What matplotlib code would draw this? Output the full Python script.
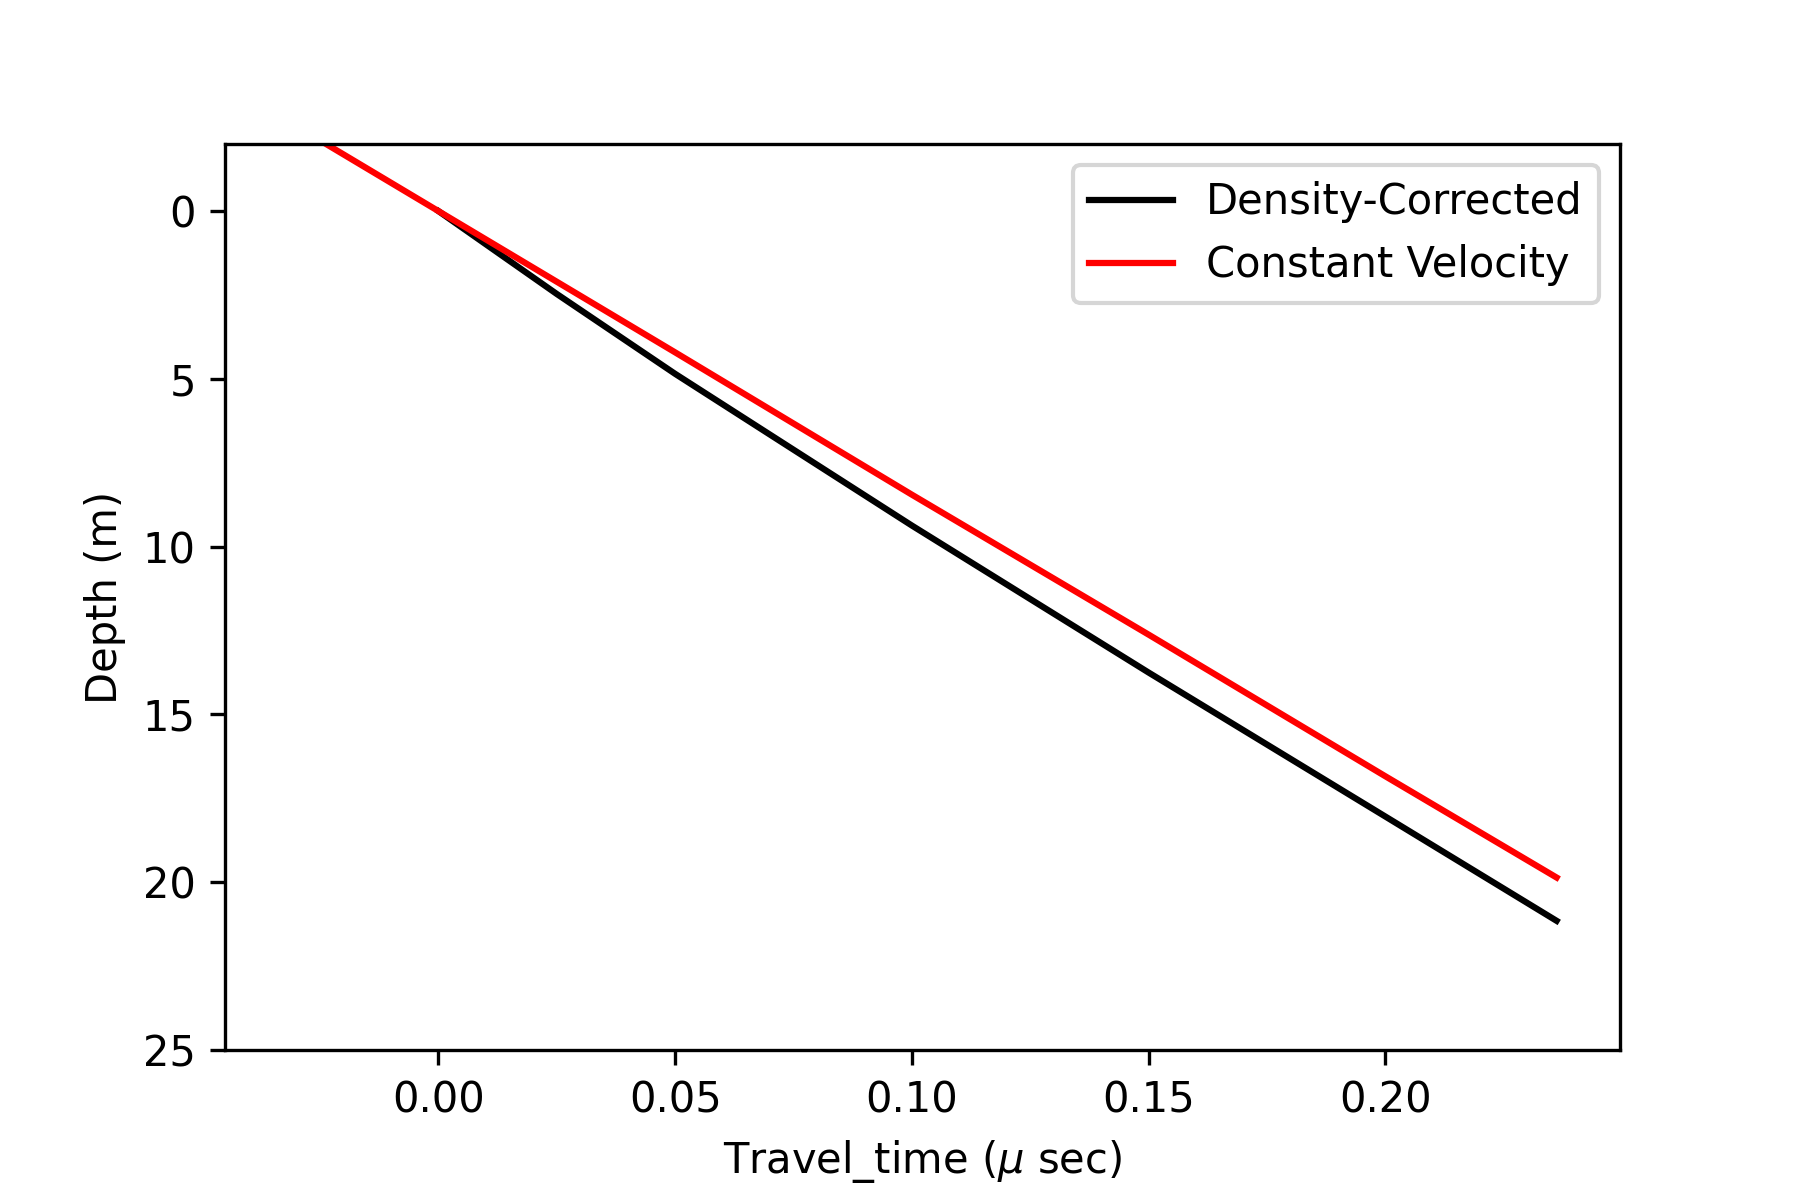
import matplotlib
matplotlib.use("Agg")
import matplotlib.pyplot as plt

# two-way travel time (micro sec) and depth (m)
t_density = [0.0, 0.025, 0.05, 0.10, 0.15, 0.20, 0.2362]
depth_density = [0.0, 2.47, 4.85, 9.37, 13.75, 18.04, 21.15]

t_const = [-0.0317, 0.0, 0.05, 0.10, 0.15, 0.20, 0.2362]
depth_const = [-2.67, 0.0, 4.21, 8.45, 12.62, 16.84, 19.86]

fig, ax = plt.subplots(figsize=(6, 4))
fig.subplots_adjust(bottom=0.125)

ax.plot(t_density, depth_density, color="k", label="Density-Corrected")
ax.plot(t_const, depth_const, color="r", label="Constant Velocity")

ax.set_ylim(25, -2)
ax.set_xlabel(r"Travel_time ($\mu$ sec)")
ax.set_ylabel("Depth (m)")
ax.legend(loc="upper right")

fig.savefig("out.png", dpi=300)
plt.close(fig)
